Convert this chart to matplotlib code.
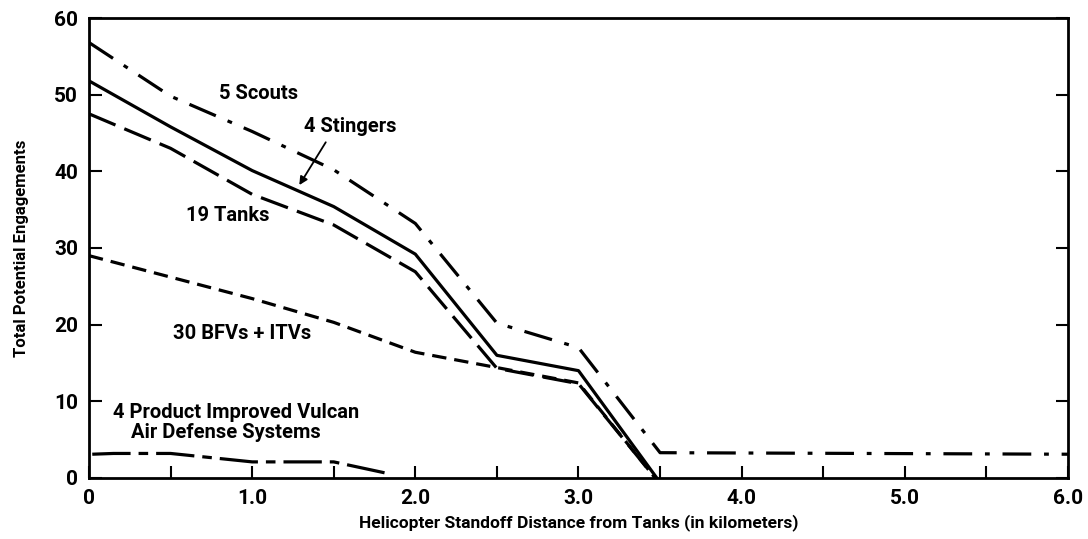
import matplotlib.pyplot as plt

plt.rcParams['font.family'] = ['Liberation Sans Narrow', 'Roboto', 'DejaVu Sans']
plt.rcParams['font.weight'] = 'bold'
plt.rcParams['axes.labelweight'] = 'bold'

# data
scouts_x = [0, 0.5, 1.0, 1.5, 2.0, 2.5, 3.0, 3.5, 6.0]
scouts_y = [56.8, 49.8, 45.2, 40.2, 33.2, 20.2, 17.0, 3.3, 3.1]
stingers_x = [0, 0.5, 1.0, 1.5, 2.0, 2.5, 3.0, 3.48]
stingers_y = [51.8, 45.8, 40.1, 35.4, 29.2, 16.0, 14.0, 0]
tanks_x = [0, 0.5, 1.0, 1.5, 2.0, 2.5, 3.0, 3.47]
tanks_y = [47.5, 43.0, 37.0, 33.0, 26.9, 14.3, 12.3, 0]
bfv_x = [0, 0.5, 1.0, 1.5, 2.0, 2.5, 3.0, 3.47]
bfv_y = [29.0, 26.2, 23.4, 20.3, 16.4, 14.4, 12.4, 0]
vulcan_x = [0.02, 0.15, 0.5, 1.0, 1.5, 1.85]
vulcan_y = [3.1, 3.2, 3.2, 2.1, 2.1, 0.5]

x_ticks = [0, 1, 2, 3, 4, 5, 6]
x_ticklabels = ['0', '1.0', '2.0', '3.0', '4.0', '5.0', '6.0']
x_minor = [0.5, 1.5, 2.5, 3.5, 4.5, 5.5]
y_ticks = [0, 10, 20, 30, 40, 50, 60]

fig = plt.figure(figsize=(10.88, 5.39), dpi=100)
ax = fig.add_axes([0.0818, 0.1132, 0.8998, 0.8534])

lw = 2.3
ax.plot(scouts_x, scouts_y, color='black', lw=lw, linestyle=(0, (9, 4, 1.5, 4)))
ax.plot(stingers_x, stingers_y, color='black', lw=lw, linestyle='-')
ax.plot(tanks_x, tanks_y, color='black', lw=lw, linestyle=(0, (9, 3)))
ax.plot(bfv_x, bfv_y, color='black', lw=lw, linestyle=(0, (4.5, 2.5)))
ax.plot(vulcan_x, vulcan_y, color='black', lw=lw, linestyle=(0, (12, 2.5, 3, 2.5)))

ax.set_xlim(0, 6.0)
ax.set_ylim(0, 60)
ax.set_xticks(x_ticks)
ax.set_xticklabels(x_ticklabels)
ax.set_xticks(x_minor, minor=True)
ax.set_yticks(y_ticks)
ax.tick_params(axis='both', which='both', direction='in', length=9, width=1.5,
               labelsize=15, pad=8)
ax.tick_params(axis='y', right=True, labelright=False)
ax.tick_params(axis='x', which='both', top=False)
for s in ax.spines.values():
    s.set_linewidth(2)

ax.set_xlabel('Helicopter Standoff Distance from Tanks (in kilometers)', fontsize=12.5, labelpad=4)
ax.set_ylabel('Total Potential Engagements', fontsize=12, labelpad=18)

fs = 14.5
ax.text(1.04, 50.1, '5 Scouts', fontsize=fs, ha='center', va='center')
ax.text(1.60, 45.9, '4 Stingers', fontsize=fs, ha='center', va='center')
ax.annotate('', xy=(1.28, 37.9), xytext=(1.46, 44.1),
            arrowprops=dict(arrowstyle='-|>', color='black', lw=1.3, mutation_scale=12))
ax.text(0.85, 34.2, '19 Tanks', fontsize=fs, ha='center', va='center')
ax.text(0.94, 18.8, '30 BFVs + ITVs', fontsize=fs, ha='center', va='center')
ax.text(0.15, 8.6, '4 Product Improved Vulcan', fontsize=fs, ha='left', va='center')
ax.text(0.26, 5.9, 'Air Defense Systems', fontsize=fs, ha='left', va='center')

plt.savefig('out.png', dpi=100)
